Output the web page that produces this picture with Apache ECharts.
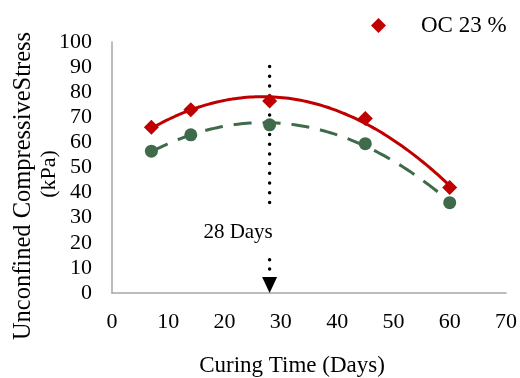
<!DOCTYPE html>
<html><head><meta charset="utf-8">
<script src="https://cdn.jsdelivr.net/npm/echarts@6/dist/echarts.min.js"></script>
<style>html,body{margin:0;padding:0;background:#fff}#c{width:520px;height:378px}</style>
</head><body><div id="c"></div>
<script>
var days = [7, 14, 28, 45, 60];
var oc23 = [66, 73, 76.5, 69.5, 42];
var oc2 = [56.5, 63, 67, 59.5, 36];
var xTicks = [0, 10, 20, 30, 40, 50, 60, 70];
var yTicks = [0, 10, 20, 30, 40, 50, 60, 70, 80, 90, 100];
var markDay = 28;
var markTop = [90.2, 35.7];
var markLow = [13.2, 9.4];
var arrowAt = 3.2;
var markText = '28 Days';
var markTextPos = [22.4, 24];

function polyFit2(xs, ys) {
  var n = xs.length, s = [0,0,0,0,0], t = [0,0,0];
  for (var i = 0; i < n; i++) {
    var x = xs[i], p = 1;
    for (var k = 0; k < 5; k++) { s[k] += p; if (k < 3) t[k] += p * ys[i]; p *= x; }
  }
  var A = [[s[0],s[1],s[2],t[0]],[s[1],s[2],s[3],t[1]],[s[2],s[3],s[4],t[2]]];
  for (var c = 0; c < 3; c++) {
    for (var r = c + 1; r < 3; r++) {
      var f = A[r][c] / A[c][c];
      for (var j = c; j < 4; j++) A[r][j] -= f * A[c][j];
    }
  }
  var co = [0,0,0];
  for (var r2 = 2; r2 >= 0; r2--) {
    var v = A[r2][3];
    for (var j2 = r2 + 1; j2 < 3; j2++) v -= A[r2][j2] * co[j2];
    co[r2] = v / A[r2][r2];
  }
  return co;
}
function trend(xs, ys) {
  var co = polyFit2(xs, ys), out = [];
  var a = xs[0], b = xs[xs.length - 1];
  for (var i = 0; i <= 100; i++) {
    var x = a + (b - a) * i / 100;
    out.push([x, co[0] + co[1] * x + co[2] * x * x]);
  }
  return out;
}
function pairs(xs, ys) { return xs.map(function (x, i) { return [x, ys[i]]; }); }

var FONT = '"Liberation Serif", "Times New Roman", serif';
var RED = '#c00000', GREEN = '#3f6b4b';
var chart = echarts.init(document.getElementById('c'));
chart.setOption({
  animation: false,
  backgroundColor: '#fff',
  grid: { left: 112, right: 14, top: 42, bottom: 85, containLabel: false },
  legend: {
    data: [{ name: 'OC 23 %', icon: 'diamond' }],
    left: 366, top: 9, itemWidth: 15, itemHeight: 15,
    textStyle: { fontFamily: FONT, fontSize: 23, color: '#000', padding: [0, 0, 0, 30] }
  },
  xAxis: {
    type: 'value', min: 0, max: 70, interval: 10,
    axisLine: { lineStyle: { color: '#a6a6a6', width: 1.5 } },
    axisTick: { show: false }, splitLine: { show: false },
    axisLabel: { fontFamily: FONT, fontSize: 22, color: '#000', margin: 18,
      formatter: function (v) { return xTicks.indexOf(v) >= 0 ? String(v) : ''; } }
  },
  yAxis: {
    type: 'value', min: 0, max: 100, interval: 10,
    axisLine: { show: true, lineStyle: { color: '#a6a6a6', width: 1.5 } },
    axisTick: { show: false }, splitLine: { show: false },
    axisLabel: { fontFamily: FONT, fontSize: 22, color: '#000', margin: 20,
      formatter: function (v) { return yTicks.indexOf(v) >= 0 ? String(v) : ''; } }
  },
  graphic: [
    { type: 'text', x: 24, y: 186, rotation: Math.PI / 2, silent: true,
      style: { text: 'Unconfined CompressiveStress', font: '24.5px ' + FONT, fill: '#000',
        textAlign: 'center', textVerticalAlign: 'middle' } },
    { type: 'text', x: 49, y: 174, rotation: Math.PI / 2, silent: true,
      style: { text: '(kPa)', font: '22px ' + FONT, fill: '#000',
        textAlign: 'center', textVerticalAlign: 'middle' } },
    { type: 'text', x: 292, y: 366, silent: true,
      style: { text: 'Curing Time (Days)', font: '23px ' + FONT, fill: '#000',
        textAlign: 'center', textVerticalAlign: 'middle' } }
  ],
  series: [
    { name: 'OC 23 % trend', type: 'line', data: trend(days, oc23), showSymbol: false, symbol: 'none',
      lineStyle: { color: RED, width: 3 }, z: 2, silent: true },
    { name: 'OC 2 trend', type: 'line', data: trend(days, oc2), showSymbol: false, symbol: 'none',
      lineStyle: { color: GREEN, width: 3, type: [18, 11] }, z: 2, silent: true },
    { name: 'mark top', type: 'line', data: [[markDay, markTop[0]], [markDay, markTop[1]]], symbol: 'none',
      lineStyle: { color: '#000', width: 3.5, type: [0, 9.7], cap: 'round' }, z: 1, silent: true },
    { name: 'mark low', type: 'line', data: [[markDay, markLow[0]], [markDay, markLow[1]]], symbol: 'none',
      lineStyle: { color: '#000', width: 3.5, type: [0, 9.2], cap: 'round' }, z: 1, silent: true },
    { name: 'mark text', type: 'scatter', data: [markTextPos], symbolSize: 1, silent: true,
      itemStyle: { color: 'rgba(0,0,0,0)', opacity: 1 },
      label: { show: true, position: 'inside', formatter: markText, fontFamily: FONT, fontSize: 21,
        color: '#000', opacity: 1, textBorderWidth: 0 } },
    { name: 'arrow', type: 'scatter', data: [[markDay, arrowAt]], symbol: 'triangle', symbolRotate: 180,
      symbolSize: [15, 16], itemStyle: { color: '#000', opacity: 1 }, z: 3, silent: true },
    { name: 'OC 2', type: 'scatter', data: pairs(days, oc2), symbol: 'circle', symbolSize: 13,
      itemStyle: { color: GREEN, opacity: 1 }, z: 4 },
    { name: 'OC 23 %', type: 'scatter', data: pairs(days, oc23), symbol: 'diamond', symbolSize: 15,
      itemStyle: { color: RED, opacity: 1 }, z: 5 }
  ]
});
</script></body></html>
